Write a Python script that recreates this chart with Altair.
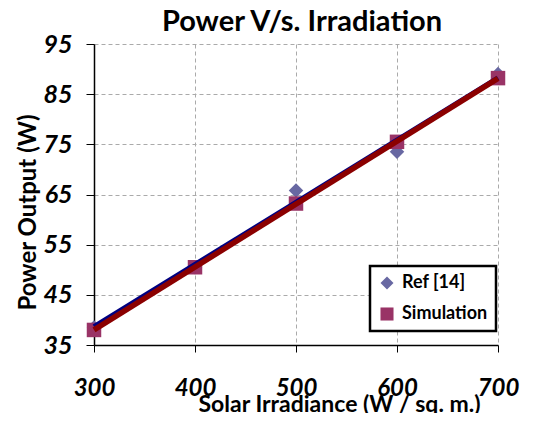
import altair as alt
import pandas as pd

irradiance = [300, 400, 500, 600, 700]
ref_power = [38.5, 50.5, 65.8, 73.5, 89.0]
sim_power = [38.0, 50.5, 63.2, 75.5, 88.2]
series_names = ["Ref [14]", "Simulation"]
marker_colors = ["#6868A2", "#993366"]
line_colors = ["#000080", "#8B0000"]

rows = []
for x, y in zip(irradiance, ref_power):
    rows.append({"x": x, "y": y, "series": series_names[0]})
for x, y in zip(irradiance, sim_power):
    rows.append({"x": x, "y": y, "series": series_names[1]})
df = pd.DataFrame(rows)

FONT = "Lato"

xscale = alt.Scale(domain=[300, 700], nice=False, zero=False)
yscale = alt.Scale(domain=[35, 95], nice=False, zero=False)

xaxis = alt.Axis(
    values=irradiance, title="Solar Irradiance (W / sq. m.)",
    grid=True, gridDash=[4, 3], gridColor="#AAAAAA", gridWidth=1,
    domainColor="black", domainWidth=1.5, tickColor="black", tickSize=7,
    labelFont=FONT, labelFontSize=24, labelFontWeight="bold", labelFontStyle="italic",
    labelColor="black", labelPadding=24, labelFlush=False,
    titleFont=FONT, titleFontSize=23, titleFontWeight="bold", titleColor="black",
    titleX=245, titleY=66, titleBaseline="alphabetic",
)
yaxis = alt.Axis(
    values=[35, 45, 55, 65, 75, 85, 95], title="Power Output (W)",
    grid=True, gridDash=[4, 3], gridColor="#AAAAAA", gridWidth=1,
    domainColor="black", domainWidth=1.5, tickColor="black", tickSize=8,
    labelFont=FONT, labelFontSize=25, labelFontWeight="bold", labelFontStyle="italic",
    labelColor="black", labelPadding=14, labelFlush=False,
    titleFont=FONT, titleFontSize=24, titleFontWeight="bold", titleColor="black",
    titleX=-59, titleY=168, titleBaseline="alphabetic", titleAngle=270,
)

base = alt.Chart(df)

points = base.mark_point(filled=True, opacity=1, size=210).encode(
    x=alt.X("x:Q", scale=xscale, axis=xaxis),
    y=alt.Y("y:Q", scale=yscale, axis=yaxis),
    color=alt.Color("series:N", scale=alt.Scale(domain=series_names, range=marker_colors),
                    legend=alt.Legend(
                        title=None, orient="none", legendX=276, legendY=222,
                        labelFont=FONT, labelFontSize=18, labelFontWeight="bold", labelColor="black",
                        symbolSize=170, rowPadding=13, padding=8, labelOffset=6,
                        strokeColor="black", fillColor="white",
                    )),
    shape=alt.Shape("series:N", scale=alt.Scale(domain=series_names, range=["diamond", "square"]),
                    legend=None),
)

ref_line = base.transform_filter(alt.datum.series == series_names[0]).transform_regression(
    "x", "y").mark_line(color=line_colors[0], strokeWidth=5).encode(
    x=alt.X("x:Q", scale=xscale), y=alt.Y("y:Q", scale=yscale))
sim_line = base.transform_filter(alt.datum.series == series_names[1]).transform_regression(
    "x", "y").mark_line(color=line_colors[1], strokeWidth=5.5).encode(
    x=alt.X("x:Q", scale=xscale), y=alt.Y("y:Q", scale=yscale))

chart = alt.layer(points, ref_line, sim_line).properties(
    width=404, height=301,
    title=alt.TitleParams("Power V/s. Irradiation", font=FONT, fontSize=29, fontWeight="bold",
                          color="black", anchor="middle", offset=10, dx=6, dy=15),
    autosize=alt.AutoSizeParams(type="none"),
    padding={"left": 86, "top": 36, "right": 29, "bottom": 68},
).configure_view(stroke=None).configure_legend(strokeWidth=2.5)

chart.save("out.html", embed_options={"renderer": "svg", "actions": False})
